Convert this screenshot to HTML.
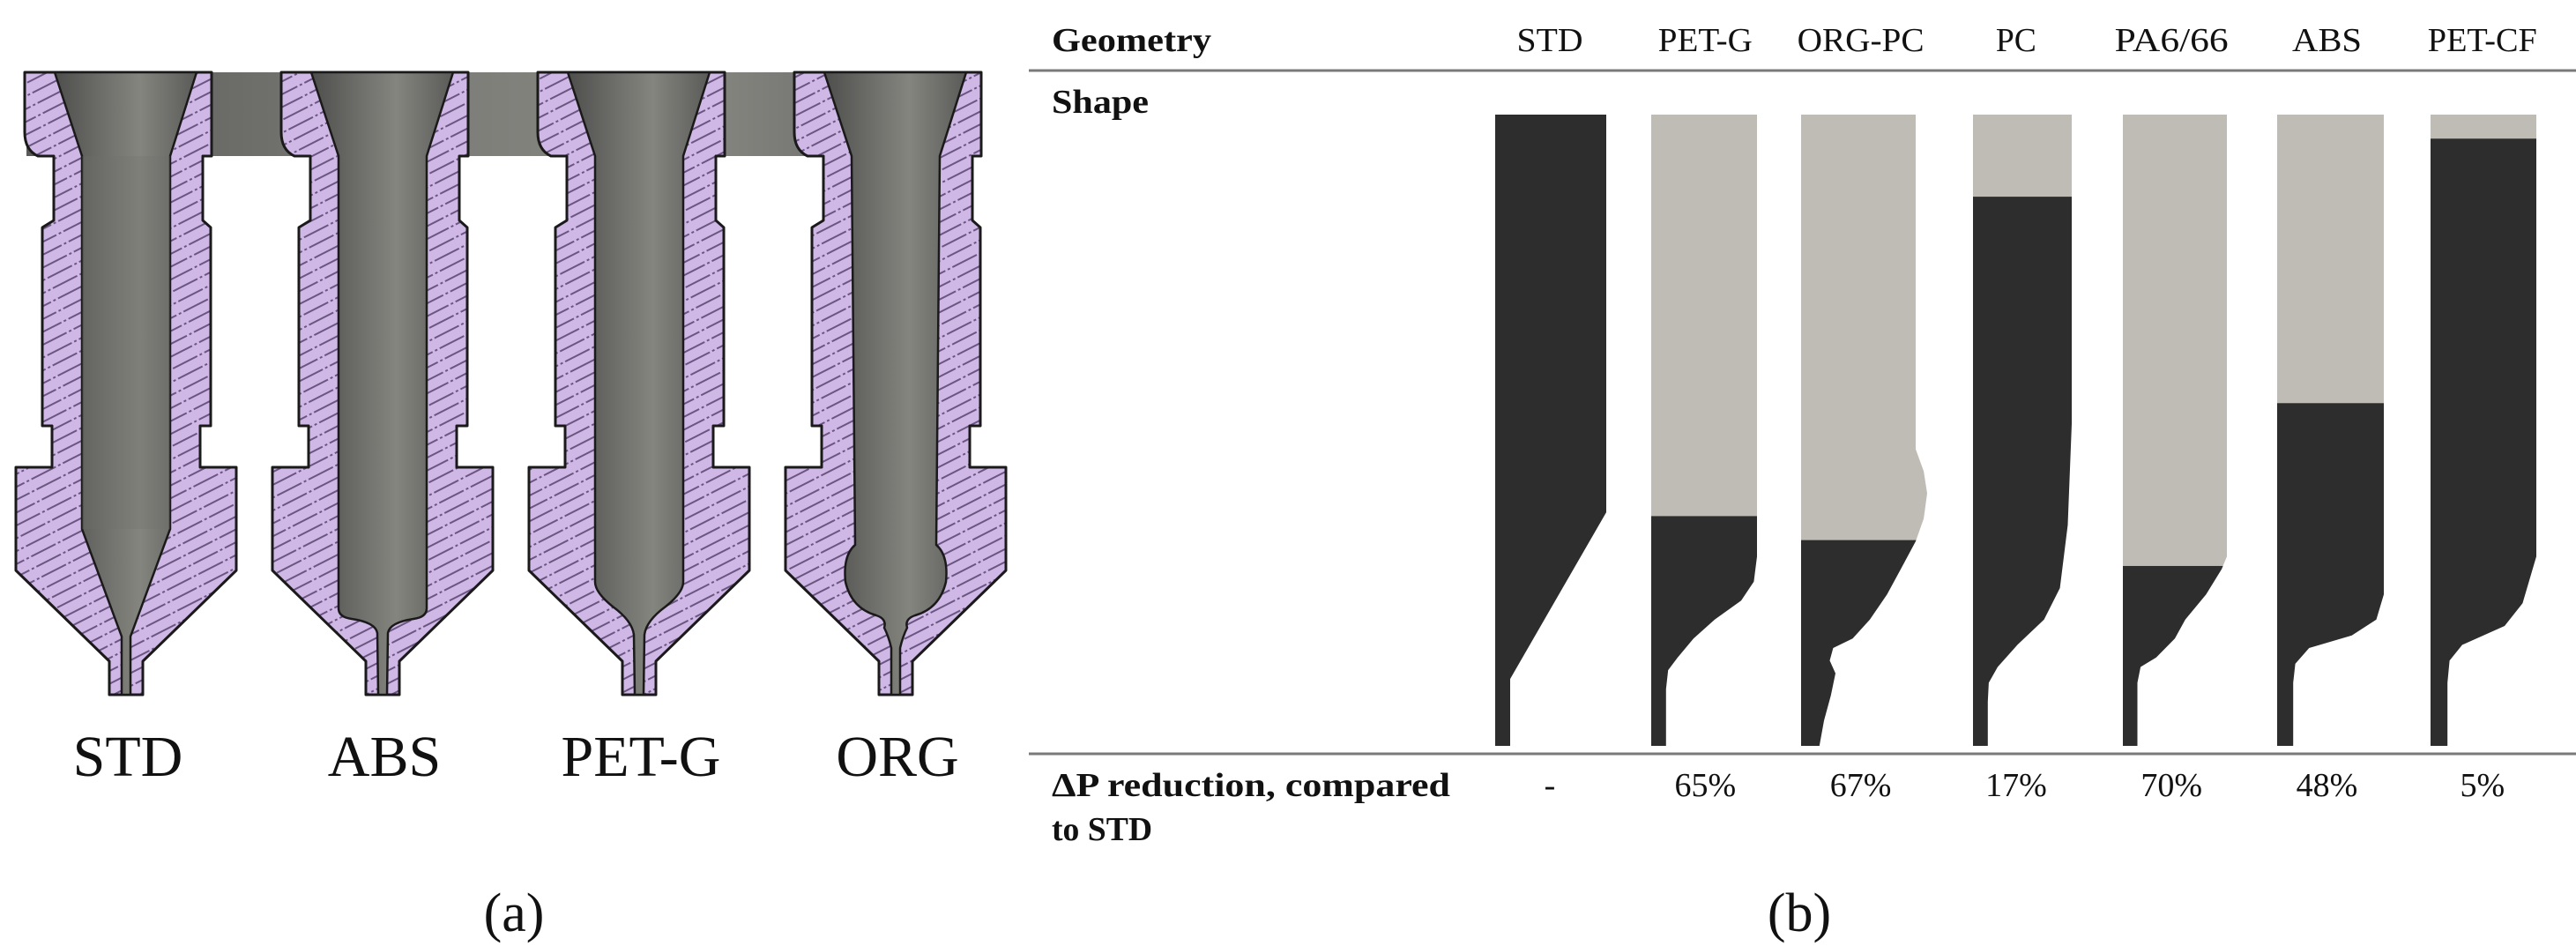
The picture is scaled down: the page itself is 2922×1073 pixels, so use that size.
<!DOCTYPE html>
<html><head><meta charset="utf-8">
<style>
html,body{margin:0;padding:0;background:#fff;}
body{width:2922px;height:1073px;overflow:hidden;}
svg{display:block;}
text{font-family:"Liberation Serif",serif;fill:#111;}
</style></head>
<body>
<svg id="fig" width="2922" height="1073" viewBox="0 0 2922 1073" xmlns="http://www.w3.org/2000/svg">
<defs>
  <pattern id="hatch" patternUnits="userSpaceOnUse" width="40" height="13" patternTransform="rotate(-27)">
    <rect width="40" height="13" fill="#cfb8e6"/>
    <line x1="0" y1="6.5" x2="40" y2="6.5" stroke="#6a5680" stroke-width="2" stroke-dasharray="16 3 3 3"/>
  </pattern>
  <linearGradient id="boreG" x1="0" x2="1" y1="0" y2="0">
    <stop offset="0" stop-color="#4e4e4c"/>
    <stop offset="0.3" stop-color="#6a6a67"/>
    <stop offset="0.6" stop-color="#85857f"/>
    <stop offset="1" stop-color="#5a5a58"/>
  </linearGradient>
  <linearGradient id="bandG" x1="0" x2="1" y1="0" y2="0">
    <stop offset="0" stop-color="#5a5a58"/>
    <stop offset="0.4" stop-color="#7a7a76"/>
    <stop offset="0.7" stop-color="#8a8a84"/>
    <stop offset="1" stop-color="#606060"/>
  </linearGradient>
</defs>
<g id="panelA"></g>
<g id="panelB"></g>
</svg>
<script>
// ---- Panel (a) data ----
const nozzleNames = ['STD','ABS','PET-G','ORG'];
// ---- Panel (b) data ----
const categories = ['STD','PET-G','ORG-PC','PC','PA6/66','ABS','PET-CF'];
const reductions = ['-','65%','67%','17%','70%','48%','5%'];
// fraction of nozzle height (from top) where the dark (flow) region starts
const darkStart = [0, 0.636, 0.674, 0.13, 0.715, 0.457, 0.038];

const NS = 'http://www.w3.org/2000/svg';
function mk(tag, attrs, parent){
  const e = document.createElementNS(NS, tag);
  for (const k in attrs) e.setAttribute(k, attrs[k]);
  parent.appendChild(e);
  return e;
}
const A = document.getElementById('panelA');
const B = document.getElementById('panelB');

// ---------- Panel (a) ----------
const nCenters = nozzleNames.map((n,i)=>143 + 291*i);
// connecting gray band
const band = mk('rect',{x:30,y:82,width:1060,height:95,fill:'url(#bandG)'},A);



function outerPath(c){
  return `M${c-115},82 L${c+97},82 L${c+97},177 L${c+87},177 L${c+87},250 L${c+96},258 L${c+96},483 L${c+84},483 L${c+84},530 L${c+125},530 L${c+125},647 L${c+19},750 L${c+19},788 L${c-19},788 L${c-19},750 L${c-125},647 L${c-125},530 L${c-84},530 L${c-84},483 L${c-95},483 L${c-95},258 L${c-82},250 L${c-82},177 L${c-100},177 Q${c-115},170 ${c-115},150 Z`;
}
function borePath(i,c){
  const top = `M${c-81},82 L${c+80},82 L${c+50},177 `;
  if(i===0) return top+`L${c+50},600 L${c+5},722 L${c+5},788 L${c-5},788 L${c-5},722 L${c-50},600 L${c-50},177 Z`;
  if(i===1) return top+`L${c+50},690 Q${c+50},700 ${c+35},702 Q${c+8},706 ${c+6},718 L${c+5},788 L${c-5},788 L${c-6},718 Q${c-8},706 ${c-35},702 Q${c-50},700 ${c-50},690 L${c-50},177 Z`;
  if(i===2) return top+`L${c+50},660 Q${c+50},672 ${c+30},688 Q${c+8},704 ${c+6},720 L${c+5},788 L${c-5},788 L${c-6},720 Q${c-8},704 ${c-30},688 Q${c-50},672 ${c-50},660 L${c-50},177 Z`;
  return top+`L${c+46},618 Q${c+60},630 ${c+57},660 Q${c+50},690 ${c+22},698 Q${c+10},702 ${c+13},712 Q${c+8},722 ${c+5},735 L${c+5},788 L${c-5},788 L${c-5},735 Q${c-8},722 ${c-13},712 Q${c-10},702 ${c-22},698 Q${c-50},690 ${c-57},660 Q${c-60},630 ${c-46},618 L${c-50},177 Z`;
}
nozzleNames.forEach((n,i)=>{
  const c = nCenters[i];
  const g = mk('g',{},A);
  
  
  const body = mk('path',{d:outerPath(c),fill:'url(#hatch)',stroke:'#1a1a1a','stroke-width':3,'stroke-linejoin':'round'},g);
  
  
  const bore = mk('path',{d:borePath(i,c),fill:'url(#boreG)',stroke:'#1a1a1a','stroke-width':2.5},g);
  
  
  if(i===0){
    const cone = mk('rect',{x:c-50,y:177,width:100,height:423,fill:'#6e6e6a',opacity:0.25},g);
    
    
  }
  const t = mk('text',{x:c+2,y:880,'text-anchor':'middle','font-size':66},A);
  t.textContent = n;
  
  
});
const capA = mk('text',{x:583,y:1056,'text-anchor':'middle','font-size':62},A);
capA.textContent='(a)';



// ---------- Panel (b) ----------
const colCenter = i => 1758 + i*176.3;
const barTop = 130, barBot = 846, barH = barBot - barTop;
const barLeft = [1696,1873,2043,2238,2408,2583,2757];
const barW = [126,120,130,112,118,121,120];
const profiles = [
 [[1,0],[1,.63],[.135,.894],[.135,1]],
 [[1,0],[1,.70],[.97,.74],[.85,.77],[.6,.80],[.4,.83],[.25,.86],[.16,.88],[.14,.91],[.14,1]],
 [[1,0],[1,.53],[1.07,.565],[1.1,.60],[1.07,.64],[1.0,.676],[.87,.72],[.75,.76],[.6,.80],[.45,.83],[.28,.845],[.25,.865],[.3,.885],[.26,.92],[.2,.96],[.16,1]],
 [[1,0],[1,.49],[.96,.65],[.88,.75],[.72,.80],[.45,.84],[.25,.875],[.16,.90],[.15,.93],[.15,1]],
 [[1,0],[1,.70],[.95,.72],[.8,.76],[.6,.80],[.5,.83],[.32,.86],[.17,.875],[.14,.90],[.14,1]],
 [[1,0],[1,.76],[.93,.80],[.7,.825],[.3,.845],[.17,.87],[.15,.90],[.15,1]],
 [[1,0],[1,.70],[.87,.774],[.7,.81],[.3,.84],[.18,.865],[.16,.90],[.16,1]]
];
const yScale = v => barTop + v*barH;

const rule1 = mk('line',{x1:1167,x2:2922,y1:80,y2:80,stroke:'#7a7a7a','stroke-width':3},B);


const rule2 = mk('line',{x1:1167,x2:2922,y1:855,y2:855,stroke:'#7a7a7a','stroke-width':3},B);



const hGeo = mk('text',{x:1193,y:58,'font-size':38,'font-weight':'bold',textLength:181,lengthAdjust:'spacingAndGlyphs'},B);
hGeo.textContent='Geometry';


const hShape = mk('text',{x:1193,y:128,'font-size':38,'font-weight':'bold',textLength:110,lengthAdjust:'spacingAndGlyphs'},B);
hShape.textContent='Shape';


const r1 = mk('text',{x:1193,y:903,'font-size':38,'font-weight':'bold',textLength:452,lengthAdjust:'spacingAndGlyphs'},B);
r1.textContent='ΔP reduction, compared';


const r2 = mk('text',{x:1193,y:953,'font-size':38,'font-weight':'bold',textLength:114,lengthAdjust:'spacingAndGlyphs'},B);
r2.textContent='to STD';



const hdrW = [75,107,144,46,129,79,124];
categories.forEach((cat,i)=>{
  const cx = colCenter(i);
  const ht = mk('text',{x:cx,y:58,'text-anchor':'middle','font-size':38,textLength:hdrW[i],lengthAdjust:'spacingAndGlyphs'},B);
  ht.textContent = cat;
  
  

  const L = barLeft[i], W = barW[i];
  let d = `M${L},${barTop}`;
  profiles[i].forEach(p=>{ d += ` L${(L+p[0]*W).toFixed(1)},${yScale(p[1]).toFixed(1)}`; });
  d += ` L${L},${barBot} Z`;
  const cid = 'clip'+i;
  const cp = mk('clipPath',{id:cid},B);
  mk('path',{d:d},cp);
  const g = mk('g',{'clip-path':`url(#${cid})`},B);
  
  
  const split = yScale(darkStart[i]);
  const gray = mk('rect',{x:L-5,y:barTop,width:W+30,height:split-barTop,fill:'#bebcb4'},g);
  
  
  const dark = mk('rect',{x:L-5,y:split,width:W+30,height:barBot-split,fill:'#2d2d2d'},g);
  
  

  const vt = mk('text',{x:cx,y:903,'text-anchor':'middle','font-size':38},B);
  vt.textContent = reductions[i];
  
  
});
const capB = mk('text',{x:2041,y:1056,'text-anchor':'middle','font-size':62},B);
capB.textContent='(b)';


</script>
</body></html>
